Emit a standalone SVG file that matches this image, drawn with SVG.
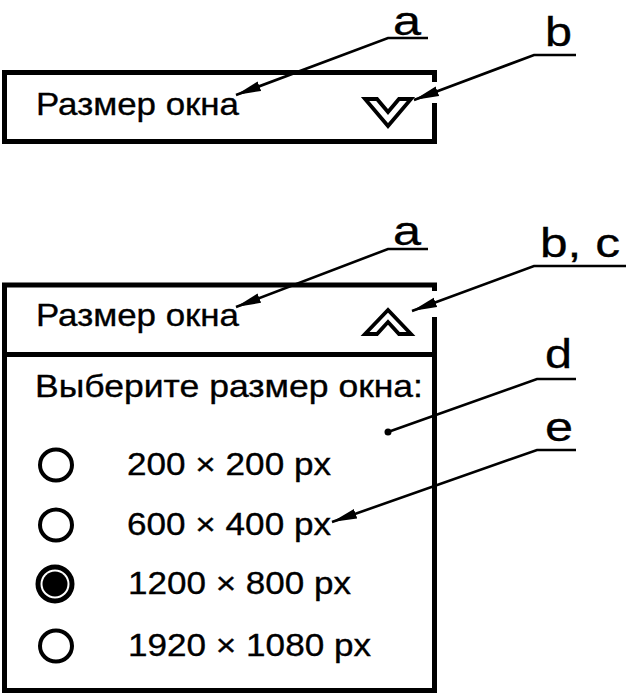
<svg xmlns="http://www.w3.org/2000/svg" width="628" height="695" viewBox="0 0 628 695">
<defs>
<style>
.t{font-family:"Liberation Sans",Arial,sans-serif;font-size:32px;fill:#000;stroke:#000;stroke-width:0.35}
.l{font-family:"Liberation Sans",Arial,sans-serif;font-size:40px;fill:#000;stroke:#000;stroke-width:0.3}
.bd{fill:none;stroke:#000;stroke-width:5}
.ld{fill:none;stroke:#000;stroke-width:2.6}
.ch{fill:#fff;stroke:#000;stroke-width:3.8;stroke-linejoin:miter}
.rb{fill:#fff;stroke:#000;stroke-width:4}
</style>
<marker id="arr" markerUnits="userSpaceOnUse" markerWidth="26" markerHeight="12" viewBox="0 -6 26 12" refX="25" refY="0" orient="auto">
<path d="M0,-5 L25,0 L0,5 z" fill="#000"/>
</marker>
</defs>
<rect width="628" height="695" fill="#fff"/>

<g id="collapsed">
<path class="bd" d="M434.5,82 V72.5 H4.5 V141.5 H434.5 V103"/>
<text class="t" x="36" y="115" textLength="203" lengthAdjust="spacingAndGlyphs">Размер окна</text>
<polygon class="ch" points="365,99 377,99 388,112 399,99 411,99 388,126"/>
</g>

<g id="expanded">
<path class="bd" d="M434.5,291 V285 H4.5 V690.5 H434.5 V317"/>
<line class="bd" x1="4.5" y1="354.5" x2="434.5" y2="354.5"/>
<text class="t" x="36" y="326" textLength="203" lengthAdjust="spacingAndGlyphs">Размер окна</text>
<polygon class="ch" points="365,334 388,310 411,334 399,334 388,322 377,334"/>
<text class="t" x="35" y="397" textLength="388" lengthAdjust="spacingAndGlyphs">Выберите размер окна:</text>
</g>

<g id="options">
<ellipse class="rb" cx="56" cy="465" rx="16" ry="15.5"/>
<text class="t" x="127" y="475" textLength="204" lengthAdjust="spacingAndGlyphs">200 × 200 px</text>
<ellipse class="rb" cx="56" cy="525" rx="16" ry="15.5"/>
<text class="t" x="127" y="535" textLength="204" lengthAdjust="spacingAndGlyphs">600 × 400 px</text>
<circle cx="55" cy="584" r="17" fill="#fff" stroke="#000" stroke-width="5"/>
<circle cx="55" cy="584" r="12.5" fill="#000"/>
<text class="t" x="128" y="594" textLength="223" lengthAdjust="spacingAndGlyphs">1200 × 800 px</text>
<ellipse class="rb" cx="56" cy="646" rx="16" ry="15.5"/>
<text class="t" x="128" y="656" textLength="243" lengthAdjust="spacingAndGlyphs">1920 × 1080 px</text>
</g>

<g id="labels">
<text class="l" x="393" y="35" textLength="28" lengthAdjust="spacingAndGlyphs">a</text>
<text class="l" x="545" y="46" textLength="27" lengthAdjust="spacingAndGlyphs">b</text>
<text class="l" x="393" y="245" textLength="28" lengthAdjust="spacingAndGlyphs">a</text>
<text class="l" x="540" y="257" textLength="80" lengthAdjust="spacingAndGlyphs">b, c</text>
<text class="l" x="545" y="368" textLength="27" lengthAdjust="spacingAndGlyphs">d</text>
<text class="l" x="545" y="441" textLength="28" lengthAdjust="spacingAndGlyphs">e</text>
</g>

<g id="connectors">
<path class="ld" d="M428,38 H388 L236,95" marker-end="url(#arr)"/>
<path class="ld" d="M576,55 H534 L414,100" marker-end="url(#arr)"/>
<path class="ld" d="M428,249 H388 L236,307" marker-end="url(#arr)"/>
<path class="ld" d="M626,266 H534 L412,311" marker-end="url(#arr)"/>
<path class="ld" d="M576,379 H537 L388,432"/>
<circle cx="388" cy="432" r="3.5" fill="#000"/>
<path class="ld" d="M576,450 H537 L332,522" marker-end="url(#arr)"/>
</g>
</svg>
